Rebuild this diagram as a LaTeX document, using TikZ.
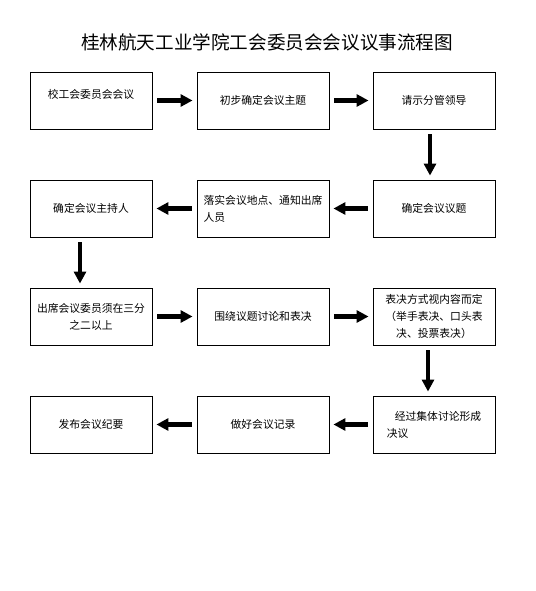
\documentclass[tikz,border=0pt]{standalone}
\usepackage{fontspec}
\newfontfamily\cjk{Noto Sans CJK SC}
\usetikzlibrary{arrows.meta}

\begin{document}
\begin{tikzpicture}[x=1pt,y=-1pt,
      >={Triangle[length=12pt,width=12pt]},
      stepbox/.style={draw,line width=0.9pt,minimum height=57pt,inner sep=2pt,
                      align=center,font=\cjk\fontsize{10.8}{17}\selectfont},
      narrow/.style={minimum width=122pt},
      wide/.style={minimum width=132pt},
      flow/.style={->,line width=4.5pt,shorten <=5pt,shorten >=4pt},
    ]
    \useasboundingbox (0,0) rectangle (535,591);
    \node[font=\cjk\fontsize{18.6}{24}\selectfont] (title) at (267,42)
      {桂林航天工业学院工会委员会会议议事流程图};
    % row 1
    \node[stepbox,narrow] (a1) at (91,100.5)  {校工会委员会会议\\[-4pt]};
    \node[stepbox,wide]   (b1) at (263,100.5) {初步确定会议主题};
    \node[stepbox,narrow] (c1) at (434,100.5) {请示分管领导};
    % row 2
    \node[stepbox,narrow] (a2) at (91,208.5)  {确定会议主持人};
    \node[stepbox,wide,align=left] (b2) at (263,208.5) {落实会议地点、通知出席\\人员};
    \node[stepbox,narrow] (c2) at (434,208.5) {确定会议议题};
    % row 3
    \node[stepbox,narrow] (a3) at (91,316.5)  {出席会议委员须在三分\\之二以上};
    \node[stepbox,wide]   (b3) at (263,316.5) {围绕议题讨论和表决};
    \node[stepbox,narrow] (c3) at (434,316.5) {表决方式视内容而定\\（举手表决、口头表\\决、投票表决）};
    % row 4
    \node[stepbox,narrow] (a4) at (91,424.5)  {发布会议纪要};
    \node[stepbox,wide]   (b4) at (263,424.5) {做好会议记录};
    \node[stepbox,narrow,align=left] (c4) at (434,424.5) {\hspace*{8pt}经过集体讨论形成\\决议};
    % arrows
    \draw[flow] (a1) -- (b1); \draw[flow] (b1) -- (c1);
    \draw[flow] ([xshift=-4pt]c1.south) -- ([xshift=-4pt]c2.north);
    \draw[flow] (c2) -- (b2); \draw[flow] (b2) -- (a2);
    \draw[flow] ([xshift=-11pt]a2.south) -- ([xshift=-11pt]a3.north);
    \draw[flow] (a3) -- (b3); \draw[flow] (b3) -- (c3);
    \draw[flow] ([xshift=-6pt]c3.south) -- ([xshift=-6pt]c4.north);
    \draw[flow] (c4) -- (b4); \draw[flow] (b4) -- (a4);
  \end{tikzpicture}
\end{document}
